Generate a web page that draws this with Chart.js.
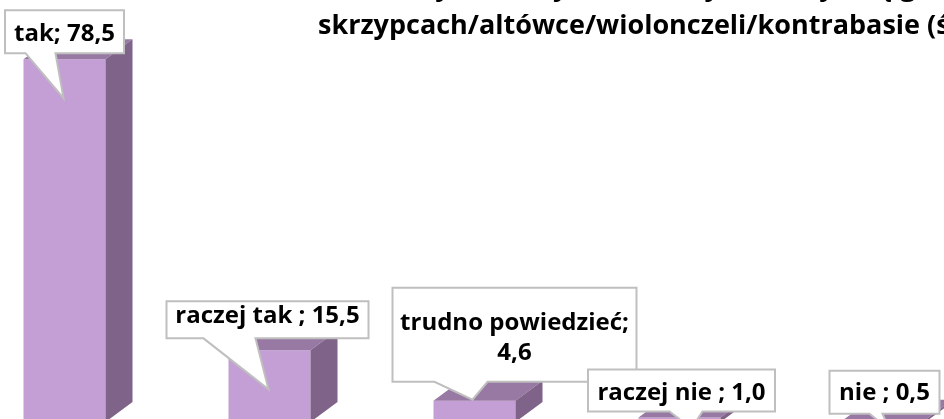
<!DOCTYPE html>
<html lang="pl">
<head>
<meta charset="utf-8">
<script src="https://cdn.jsdelivr.net/npm/chart.js@4.4.1/dist/chart.umd.min.js"></script>
<style>
  html, body { margin: 0; padding: 0; background: #fff; overflow: hidden; width: 944px; height: 419px; }
  #wrap { position: absolute; left: -38px; top: 0; width: 1025px; height: 422px; }
</style>
</head>
<body>
<div id="wrap"><canvas id="chart" width="1025" height="422"></canvas></div>
<script>
const categories = ['tak', 'raczej tak ', 'trudno powiedzieć', 'raczej nie ', 'nie '];
const values = [78.5, 15.5, 4.6, 1.0, 0.5];
const titleLines = [
    'Czy chciałbyś/chciałabyś nauczyć się grać na',
    'skrzypcach/altówce/wiolonczeli/kontrabasie (średnio, %)'
];

const FONT = "bold 24px 'Open Sans', sans-serif";
const TITLE_FONT = "bold 27px 'Open Sans', sans-serif";
const FRONT = '#C49FD5';
const TOP = '#9779A3';
const SIDE = '#7F6389';
const DEPTH_X = 27, DEPTH_Y = 20;

// callout boxes, relative to the bar front centre (x) and front top (y)
const callouts = [
    { dx: 0,  top: -49,  w: 119, h: 43, baseL: -39, baseR: -9, tipX: -1, tipY: 39, textY: [31] },
    { dx: -2, top: -49,  w: 202, h: 37, baseL: -66, baseR: -14, tipX: -1, tipY: 39, textY: [22] },
    { dx: 40, top: -113, w: 244, h: 94, baseL: -40, baseR: 13, tipX: -2, tipY: -1, textY: [42, 72], wrap: true },
    { dx: 2,  top: -48,  w: 187, h: 42, baseL: -10, baseR: 23, tipX: 12, tipY: 11, textY: [31] },
    { dx: 0,  top: -49,  w: 110, h: 43, baseL: -15, baseR: -2, tipX: 5, tipY: 10, textY: [29] }
];

const fmt = v => v.toFixed(1).replace('.', ',');

const depthBars = {
    id: 'depthBars',
    afterDatasetsDraw(chart) {
        const ctx = chart.ctx;
        chart.getDatasetMeta(0).data.forEach(bar => {
            const x1 = bar.x - bar.width / 2, x2 = bar.x + bar.width / 2;
            const yt = bar.y, yb = bar.base;
            ctx.save();
            ctx.fillStyle = TOP;
            ctx.beginPath();
            ctx.moveTo(x1, yt);
            ctx.lineTo(x1 + DEPTH_X, yt - DEPTH_Y);
            ctx.lineTo(x2 + DEPTH_X, yt - DEPTH_Y);
            ctx.lineTo(x2, yt);
            ctx.closePath();
            ctx.fill();
            ctx.fillStyle = SIDE;
            ctx.beginPath();
            ctx.moveTo(x2, yt);
            ctx.lineTo(x2 + DEPTH_X, yt - DEPTH_Y);
            ctx.lineTo(x2 + DEPTH_X, yb - DEPTH_Y);
            ctx.lineTo(x2, yb);
            ctx.closePath();
            ctx.fill();
            ctx.restore();
        });
    },
    afterDraw(chart) {
        const ctx = chart.ctx;
        ctx.save();
        ctx.font = TITLE_FONT;
        ctx.fillStyle = '#000';
        ctx.textBaseline = 'alphabetic';
        // title (the chart is cropped, only part of it shows)
        const tx = 356;
        const w2 = ctx.measureText(titleLines[1]).width;
        ctx.textAlign = 'left';
        ctx.fillText(titleLines[1], tx, 34);
        ctx.textAlign = 'center';
        ctx.fillText(titleLines[0], tx + w2 / 2, -4);

        ctx.font = FONT;
        chart.getDatasetMeta(0).data.forEach((bar, i) => {
            const c = callouts[i];
            const cx = bar.x + c.dx;
            const x1 = cx - c.w / 2, x2 = cx + c.w / 2;
            const y1 = bar.y + c.top, y2 = y1 + c.h;
            ctx.beginPath();
            ctx.moveTo(x1, y1);
            ctx.lineTo(x2, y1);
            ctx.lineTo(x2, y2);
            ctx.lineTo(bar.x + c.baseR, y2);
            ctx.lineTo(bar.x + c.tipX, bar.y + c.tipY);
            ctx.lineTo(bar.x + c.baseL, y2);
            ctx.lineTo(x1, y2);
            ctx.closePath();
            ctx.fillStyle = '#fff';
            ctx.fill();
            ctx.strokeStyle = '#BFBFBF';
            ctx.lineWidth = 2;
            ctx.stroke();

            const text = categories[i] + '; ' + fmt(values[i]);
            const lines = c.wrap ? [categories[i] + ';', fmt(values[i])] : [text];
            ctx.fillStyle = '#000';
            ctx.textAlign = 'center';
            lines.forEach((ln, k) => ctx.fillText(ln, cx, y1 + c.textY[k]));
        });
        ctx.restore();
    }
};

new Chart(document.getElementById('chart'), {
    type: 'bar',
    data: {
        labels: categories,
        datasets: [{
            data: values,
            backgroundColor: FRONT,
            borderWidth: 0,
            categoryPercentage: 0.8,
            barPercentage: 0.5
        }]
    },
    options: {
        responsive: false,
        animation: false,
        layout: { padding: 0 },
        plugins: {
            legend: { display: false },
            tooltip: { enabled: false },
            title: { display: false }
        },
        scales: {
            x: { display: false },
            y: { display: false, min: 0, max: 91.3 }
        }
    },
    plugins: [depthBars]
});
</script>
</body>
</html>
